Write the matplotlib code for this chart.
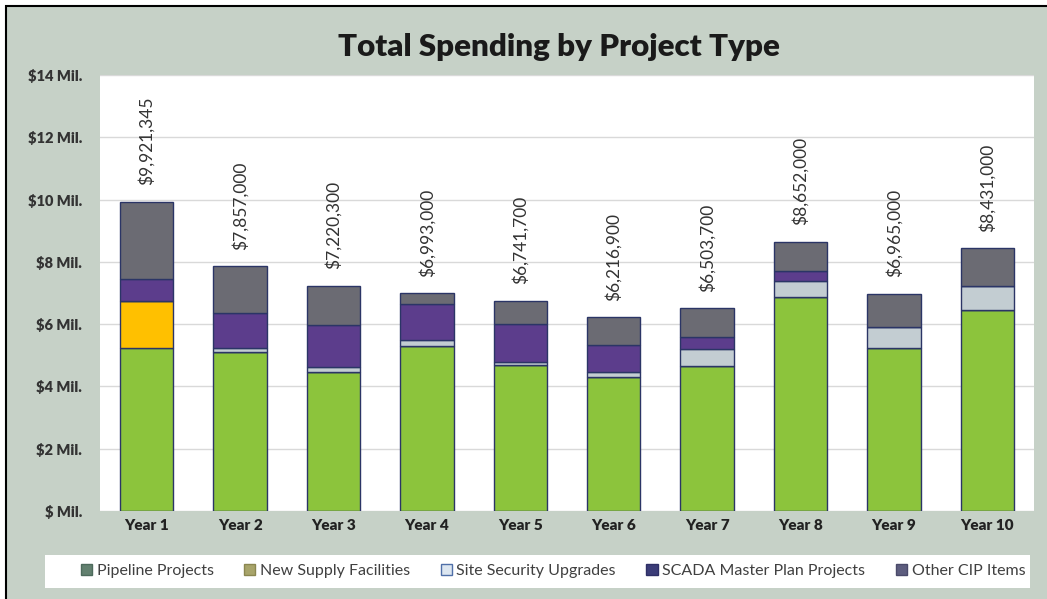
import matplotlib.pyplot as plt
from matplotlib.patches import Rectangle, Patch
import numpy as np

plt.rcParams['font.family'] = ['Lato', 'DejaVu Sans']

years = ['Year 1', 'Year 2', 'Year 3', 'Year 4', 'Year 5',
         'Year 6', 'Year 7', 'Year 8', 'Year 9', 'Year 10']

# spending per project type, in dollars
pipeline = [5220000, 5090000, 4450000, 5310000, 4690000,
            4310000, 4640000, 6860000, 5230000, 6450000]
new_supply = [1510000, 0, 0, 0, 0, 0, 0, 0, 0, 0]
site_security = [0, 160000, 180000, 180000, 110000,
                 140000, 560000, 540000, 690000, 760000]
scada = [720000, 1110000, 1340000, 1160000, 1200000,
         880000, 380000, 300000, 0, 30000]
other_cip = [2471345, 1497000, 1250300, 343000, 741700,
             886900, 923700, 952000, 1045000, 1191000]

series_names = ['Pipeline Projects', 'New Supply Facilities', 'Site Security Upgrades',
                'SCADA Master Plan Projects', 'Other CIP Items']
bar_colors = ['#8cc43c', '#ffc000', '#c3cdd2', '#5c3d8c', '#6b6b73']
legend_colors = ['#62806f', '#a8a46a', '#dce6f0', '#3b3c78', '#5d5d7e']
legend_edges = ['#4d6a5c', '#8a8650', '#4f6fa8', '#2e2f66', '#4a4a6a']

y_ticks = [0, 2, 4, 6, 8, 10, 12, 14]
y_tick_labels = ['$ Mil.', '$2 Mil.', '$4 Mil.', '$6 Mil.', '$8 Mil.',
                 '$10 Mil.', '$12 Mil.', '$14 Mil.']

bg = '#c6d1c7'

fig = plt.figure(figsize=(10.47, 5.99), dpi=100, facecolor='white')
# gray chart panel with a thin black border on top and left
fig.patches.append(Rectangle((6 / 1047, -0.05), 1.1, 1 - 6 / 599 + 0.05,
                             transform=fig.transFigure, facecolor=bg,
                             edgecolor='black', linewidth=1.5, zorder=-10))
# white strip behind the legend
fig.patches.append(Rectangle((45 / 1047, 1 - 588 / 599), 985 / 1047, 33 / 599,
                             transform=fig.transFigure, facecolor='white',
                             edgecolor='none', zorder=-5))

ax = fig.add_axes([100 / 1047, 1 - 511 / 599, 934 / 1047, 436 / 599])
ax.set_facecolor('white')

x = np.arange(len(years))
stack = [np.array(s) / 1e6 for s in [pipeline, new_supply, site_security, scada, other_cip]]
bottom = np.zeros(len(years))
for vals, color in zip(stack, bar_colors):
    ax.bar(x, vals, 0.57, bottom=bottom, color=color,
           edgecolor='#2b3566', linewidth=1.0, zorder=3)
    bottom = bottom + vals

totals = np.array(pipeline) + np.array(new_supply) + np.array(site_security) + \
    np.array(scada) + np.array(other_cip)
for xi, t in zip(x, totals):
    ax.annotate(f'${t:,.0f}', (xi, t / 1e6), xytext=(0, 12), textcoords='offset points',
                rotation=90, ha='center', va='bottom', fontsize=12.5, color='#333333')

ax.set_xlim(-0.5, len(years) - 0.5)
ax.set_ylim(0, 14)
ax.set_yticks(y_ticks)
ax.set_yticklabels(y_tick_labels, fontsize=10.5, fontweight='heavy', color='#333333')
ax.set_xticks(x)
ax.set_xticklabels(years, fontsize=11, fontweight='heavy', color='#222222')
ax.tick_params(axis='both', length=0)
ax.tick_params(axis='y', pad=13)
ax.tick_params(axis='x', pad=6)
ax.grid(axis='y', color='#d9d9d9', linewidth=1.0, zorder=0)
for s in ax.spines.values():
    s.set_visible(False)

fig.text(559 / 1047, 1 - 47 / 599, 'Total Spending by Project Type', ha='center',
         va='center', fontsize=22.5, fontweight='heavy', color='#1a1a1a')

handles = [Patch(facecolor=c, edgecolor=e, linewidth=1.0)
           for c, e in zip(legend_colors, legend_edges)]
leg = fig.legend(handles, series_names, loc='center', ncol=5,
                 bbox_to_anchor=(553 / 1047, 1 - 571 / 599),
                 frameon=False, fontsize=11.5, handlelength=0.7, handleheight=0.7,
                 handletextpad=0.3, columnspacing=1.9)
for t in leg.get_texts():
    t.set_color('#404040')

fig.savefig('out.png', dpi=100, facecolor=fig.get_facecolor())
